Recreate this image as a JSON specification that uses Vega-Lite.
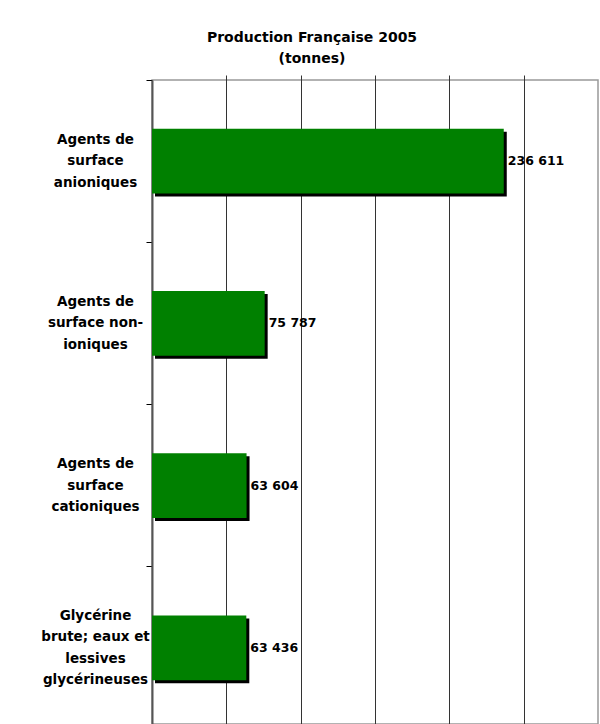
{
  "$schema": "https://vega.github.io/schema/vega-lite/v6.json",
  "width": 446,
  "height": 644,
  "autosize": {"type": "none"},
  "padding": {"left": 152, "top": 80, "right": 2, "bottom": 0},
  "background": "white",
  "title": {
    "text": ["Production Française 2005", "(tonnes)"],
    "font": "DejaVu Sans",
    "fontSize": 14,
    "fontWeight": "bold",
    "color": "#000000",
    "lineHeight": 21,
    "anchor": "middle",
    "frame": "group",
    "dx": -63,
    "offset": 14
  },
  "data": {
    "values": [
      {"categorie": "Agents de surface anioniques", "production": 236611},
      {"categorie": "Agents de surface non-ioniques", "production": 75787},
      {"categorie": "Agents de surface cationiques", "production": 63604},
      {"categorie": "Glycérine brute; eaux et lessives glycérineuses", "production": 63436}
    ]
  },
  "encoding": {
    "y": {
      "field": "categorie",
      "type": "nominal",
      "sort": null,
      "scale": {"range": [0, 649], "paddingInner": 0, "paddingOuter": 0},
      "axis": {
        "title": null,
        "bandPosition": 0,
        "labelOffset": {"condition": {"test": "datum.value == 'Glycérine brute; eaux et lessives glycérineuses'", "value": -32}, "value": -21.5},
        "tickSize": 6,
        "tickColor": "#000000",
        "domainColor": "#555555",
        "domainWidth": 2,
        "labelAlign": "center",
        "labelBaseline": "middle",
        "labelPadding": 51,
        "labelFont": "DejaVu Sans",
        "labelFontSize": 13.5,
        "labelFontWeight": "bold",
        "labelColor": "#000000",
        "labelLineHeight": 21.5,
        "labelLimit": 0,
        "grid": false,
        "labelExpr": "datum.value == 'Agents de surface anioniques' ? ['Agents de', 'surface', 'anioniques'] : datum.value == 'Agents de surface non-ioniques' ? ['Agents de', 'surface non-', 'ioniques'] : datum.value == 'Agents de surface cationiques' ? ['Agents de', 'surface', 'cationiques'] : ['Glycérine', 'brute; eaux et', 'lessives', 'glycérineuses']"
      }
    },
    "x": {
      "field": "production",
      "type": "quantitative",
      "scale": {"domain": [0, 300000]},
      "axis": {
        "title": null,
        "labels": false,
        "ticks": false,
        "domain": false,
        "grid": true,
        "gridColor": "#333333",
        "gridWidth": 1,
        "values": [50000, 100000, 150000, 200000, 250000]
      }
    }
  },
  "layer": [
    {"mark": {"type": "bar", "color": "#000000", "height": {"band": 0.4}, "xOffset": 3, "x2Offset": 3, "yOffset": 3, "y2Offset": 3}},
    {"mark": {"type": "bar", "color": "#008000", "height": {"band": 0.4}}},
    {
      "mark": {"type": "text", "align": "left", "baseline": "middle", "dx": 4, "dy": 0, "font": "DejaVu Sans", "fontSize": 12.5, "fontWeight": "bold", "color": "#000000"},
      "encoding": {"text": {"field": "production", "type": "quantitative", "format": ",d"}}
    }
  ],
  "config": {
    "locale": {"number": {"decimal": ",", "thousands": " ", "grouping": [3], "currency": ["", " €"]}},
    "view": {"stroke": "#999999", "strokeWidth": 1.5}
  }
}
